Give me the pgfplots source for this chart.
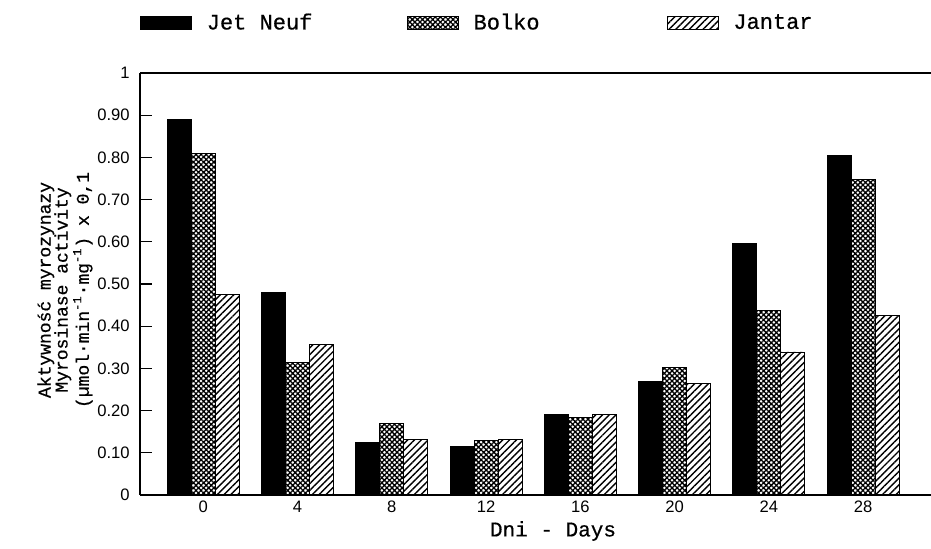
\documentclass[border=0pt]{standalone}
\usepackage{fontspec}
\setmonofont{Liberation Mono}[FakeBold=0.6]
\newfontfamily\tickfont{Liberation Sans}
\usepackage{pgfplots}
\pgfplotsset{compat=1.18}
\usetikzlibrary{patterns.meta}
\begin{document}
\begin{tikzpicture}
\useasboundingbox (0,0) rectangle (465.5pt,274.5pt);
\begin{axis}[
  at={(70pt,27pt)}, anchor=south west,
  scale only axis, width=395.5pt, height=211pt,
  ybar=0pt, bar width=12pt,
  xmin=-0.67, xmax=7.72, ymin=0, ymax=1,
  axis x line*=bottom, axis y line*=left,
  axis line style={line width=0.7pt, -},
  xtick={0,1,2,3,4,5,6,7},
  xticklabels={0,4,8,12,16,20,24,28},
  ytick={0,0.1,0.2,0.3,0.4,0.5,0.6,0.7,0.8,0.9,1},
  yticklabels={0,0.10,0.20,0.30,0.40,0.50,0.60,0.70,0.80,0.90,1},
  x tick style={draw=none},
  y tick style={line width=0.6pt, black},
  major tick length=6pt, tick align=inside,
  ticklabel style={font=\tickfont\fontsize{8.3}{9}\selectfont},
  yticklabel style={inner sep=0pt, xshift=-5pt},
  xticklabel style={inner sep=0pt, yshift=-3pt},
  legend columns=3,
  legend style={at={(0,1)}, anchor=west, yshift=25pt, draw=none, fill=none,
    inner sep=0pt, outer sep=0pt, column sep=0pt,
    font=\ttfamily\fontsize{11}{12}\selectfont,
    /tikz/every odd column/.append style={column sep=5.5pt}},
  legend image code/.code={\draw[#1,draw=black] (0pt,-3.25pt) rectangle (25.5pt,3.25pt);},
]
\addplot[fill=black, draw=black] coordinates {(0,0.89) (1,0.48) (2,0.125) (3,0.115) (4,0.19) (5,0.27) (6,0.595) (7,0.805)};
\addlegendentry{\makebox[98pt][l]{Jet Neuf}}
\addplot[draw=black, pattern={Hatch[angle=45,distance=1.8pt,line width=0.65pt]}] coordinates {(0,0.81) (1,0.315) (2,0.17) (3,0.13) (4,0.183) (5,0.303) (6,0.438) (7,0.748)};
\addlegendentry{\makebox[94.5pt][l]{Bolko}}
\addplot[draw=black, pattern={Lines[angle=45,distance=2.4pt,line width=0.7pt]}] coordinates {(0,0.475) (1,0.357) (2,0.131) (3,0.131) (4,0.19) (5,0.264) (6,0.339) (7,0.425)};
\addlegendentry{Jantar}
\draw[line width=0.7pt] (rel axis cs:0,1) -- (rel axis cs:1,1);
\end{axis}
\node[rotate=90, align=center, font=\ttfamily\fontsize{9}{8.5}\selectfont] at (32.5pt,129.5pt)
  {Aktywność myrozynazy\\Myrosinase activity\\(µmol·min\textsuperscript{-1}·mg\textsuperscript{-1}) x 0,1};
\node[font=\ttfamily\fontsize{10.5}{12}\selectfont] at (276.5pt,9pt) {Dni - Days};
\end{tikzpicture}
\end{document}
